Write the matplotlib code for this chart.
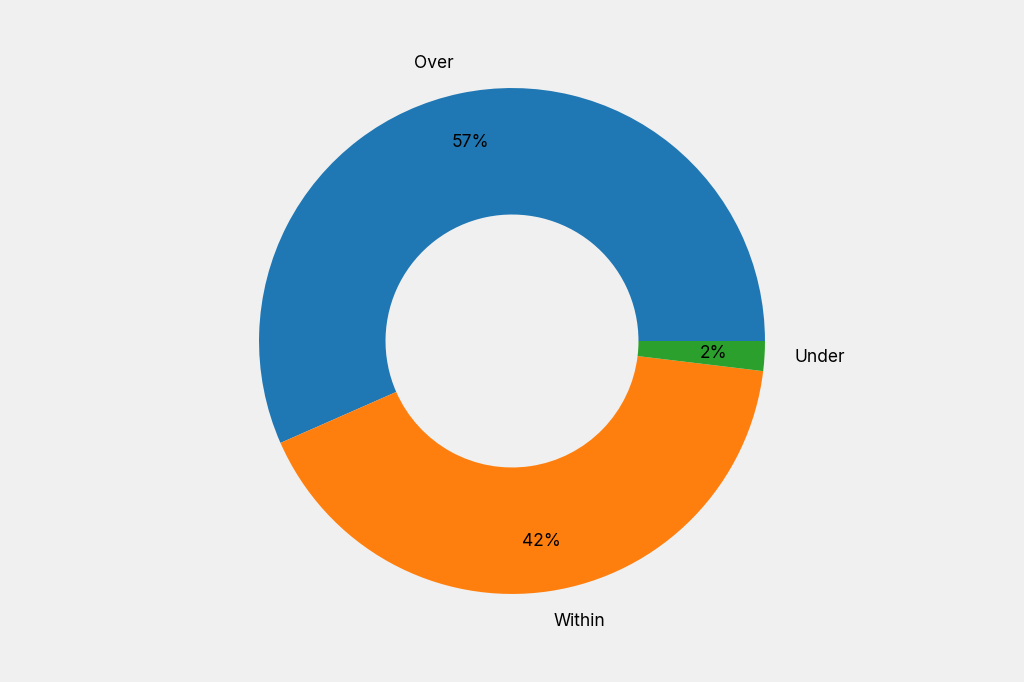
import matplotlib
matplotlib.use("Agg")
import matplotlib.pyplot as plt

labels = ["Over", "Within", "Under"]
values = [56.6, 41.5, 1.9]
colors = ["#1f77b4", "#ff7f0e", "#2ca02c"]

plt.rcParams['font.family'] = ['Inter', 'DejaVu Sans']
fig = plt.figure(figsize=(10.24, 6.82), dpi=100, facecolor="#f0f0f0")
ax = fig.add_axes([0, 0, 1, 1])
ax.set_facecolor("#f0f0f0")
ax.pie(values, labels=labels, colors=colors, startangle=0, counterclock=True,
       autopct='%1.0f%%', pctdistance=0.8, labeldistance=1.12,
       wedgeprops=dict(width=0.5), textprops=dict(fontsize=12.5))
ax.set_aspect('equal')
ax.set_ylim(-1.348, 1.348)
ax.set_xlim(-2.024, 2.024)
ax.axis('off')
fig.savefig("out.png", dpi=100, facecolor="#f0f0f0")
